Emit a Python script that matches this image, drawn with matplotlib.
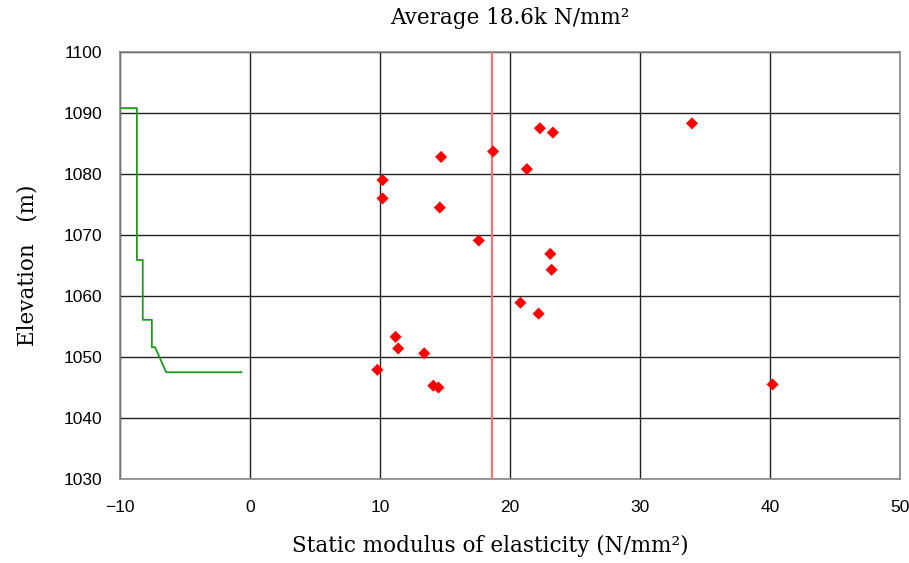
import matplotlib
matplotlib.use('Agg')
import matplotlib.pyplot as plt

# Measured points: static modulus vs elevation
modulus = [9.8, 11.2, 11.4, 13.4, 14.1, 14.5, 10.2, 10.2, 14.7, 14.6, 17.6,
           18.7, 21.3, 22.3, 23.3, 23.1, 23.2, 20.8, 22.2, 34.0, 40.2]
elevation = [1047.9, 1053.3, 1051.4, 1050.6, 1045.3, 1045.0, 1079.0, 1076.0,
             1082.8, 1074.5, 1069.1, 1083.7, 1080.8, 1087.5, 1086.8, 1066.9,
             1064.3, 1058.9, 1057.1, 1088.3, 1045.5]

# Average line
average = 18.6

# Geological column outline (green)
profile_x = [-10.0, -8.7, -8.7, -8.25, -8.25, -7.55, -7.55, -7.3, -6.45, -0.65]
profile_y = [1090.8, 1090.8, 1065.9, 1065.9, 1056.1, 1056.1, 1051.6, 1051.6, 1047.5, 1047.5]

xticks = [-10, 0, 10, 20, 30, 40, 50]
yticks = [1030, 1040, 1050, 1060, 1070, 1080, 1090, 1100]

fig = plt.figure(figsize=(9.09, 5.63), dpi=100)
ax = fig.add_axes([120 / 909, 1 - 479 / 563, 780 / 909, 427 / 563])

ax.plot(profile_x, profile_y, color='#1f9a1f', lw=1.3, zorder=3)
ax.axvline(average, color='#ff7070', lw=1.5, zorder=3)
ax.scatter(modulus, elevation, marker='D', s=38, color='#ff0000', edgecolors='none', zorder=4)

ax.set_xlim(-10, 50)
ax.set_ylim(1030, 1100)
ax.set_xticks(xticks)
ax.set_yticks(yticks)
ax.set_xticklabels(['\u221210' if t < 0 else str(t) for t in xticks])
ax.grid(True, color='#222222', lw=1.0)
ax.set_axisbelow(True)
for s in ax.spines.values():
    s.set_color('#888888')
    s.set_linewidth(1.2)
ax.tick_params(length=0, labelsize=12.5)
ax.tick_params(axis='x', pad=15)
ax.tick_params(axis='y', pad=13)
for lab in ax.get_xticklabels() + ax.get_yticklabels():
    lab.set_family('Liberation Sans')

ax.set_title('Average 18.6k N/mm\u00b2', family='DejaVu Serif', fontsize=15.5, pad=20)
ax.set_xlabel('Static modulus of elasticity (N/mm\u00b2)', family='DejaVu Serif', fontsize=15.5)
ax.xaxis.set_label_coords(0.475, -0.13)
ax.set_ylabel('Elevation\u3000(m)', family=['DejaVu Serif', 'Noto Sans CJK JP'], fontsize=15.5, labelpad=18)

fig.savefig('out.png', dpi=100)
